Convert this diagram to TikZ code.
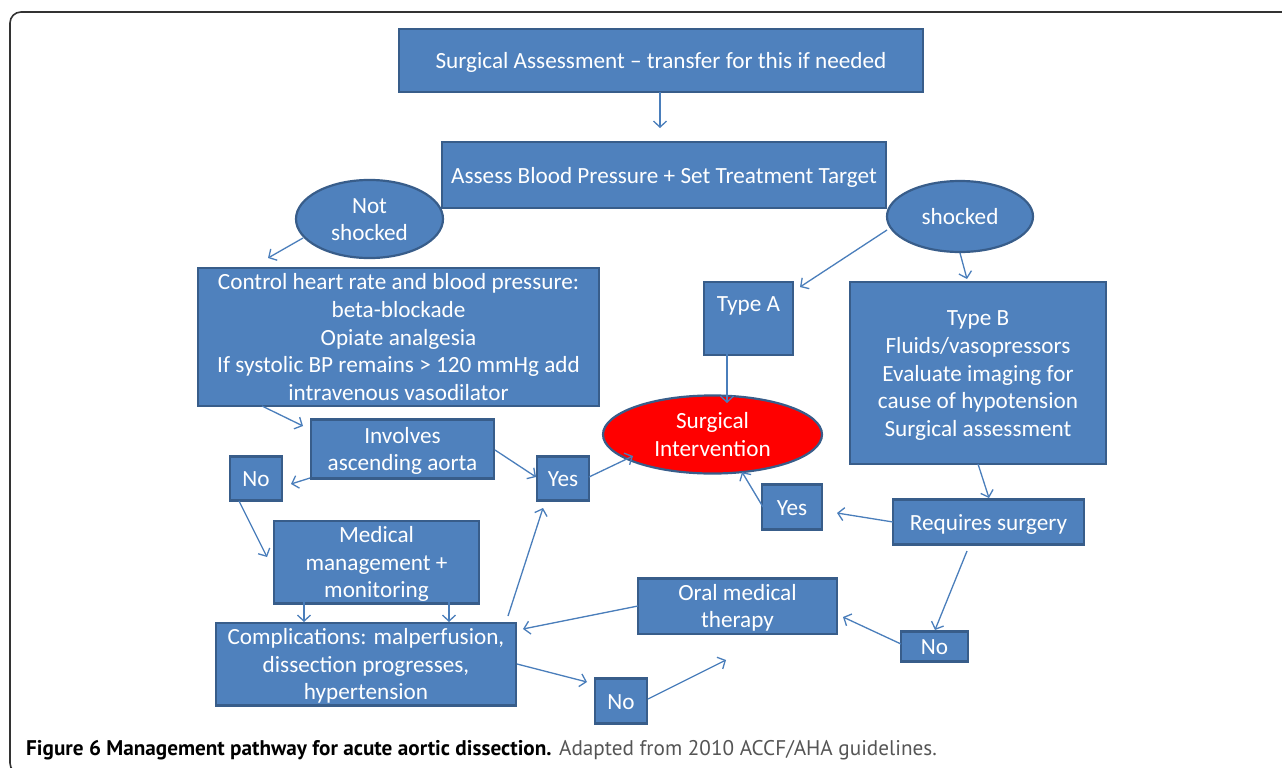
\documentclass[tikz,border=0pt]{standalone}
\usepackage{fontspec}
\setmainfont{Carlito}
\newfontfamily\capfont{PT Sans}
\usetikzlibrary{arrows.meta,shapes.geometric}
\definecolor{boxfill}{HTML}{4F81BD}
\definecolor{boxline}{HTML}{385D8A}
\definecolor{arrcol}{HTML}{4A7EBB}
\definecolor{capgray}{HTML}{555555}
\newcommand\bxt[1]{\raisebox{-2.5pt}[\height][\depth]{\begin{tabular}{@{}c@{}}#1\end{tabular}}}
\tikzset{
  box/.style={draw=boxline, fill=boxfill, line width=2.2pt, inner sep=0pt, text=white,
    font=\fontsize{23.2}{27.6}\selectfont},
  oval/.style={box, ellipse},
  arr/.style={draw=arrcol, line width=1.3pt, -{Straight Barb[length=6pt,width=13pt,line width=1.3pt]}},
}
\begin{document}
\begin{tikzpicture}[x=1pt,y=-1pt]
\useasboundingbox (0,0) rectangle (1282,768);
\fill[white] (0,0) rectangle (1282,768);
\begin{scope}
\clip (0,0) rectangle (1282,768);
\draw[line width=1.6pt, black!80, rounded corners=11pt] (10,12) rectangle (1300,774);
\end{scope}

% nodes
\node[box, minimum width=524pt, minimum height=63pt] (sa) at (661,60.5) {\bxt{Surgical Assessment -- transfer for this if needed}};
\node[box, minimum width=444pt, minimum height=66pt] (abp) at (664,175) {\bxt{Assess Blood Pressure + Set Treatment Target}};
\node[oval, minimum width=147pt, minimum height=68pt] (ns) at (369.5,219) {\bxt{Not\\shocked}};
\node[oval, minimum width=146pt, minimum height=71pt] (sh) at (960,216.5) {\bxt{shocked}};
\node[box, minimum width=401pt, minimum height=138pt] (ctrl) at (398.5,337) {\bxt{Control heart rate and blood pressure:\\beta-blockade\\Opiate analgesia\\If systolic BP remains > 120 mmHg add\\intravenous vasodilator}};
\node[box, minimum width=89pt, minimum height=73pt, text height=15pt, text depth=30pt] (ta) at (748.5,318.5) {Type A};
\node[box, minimum width=256pt, minimum height=182pt] (tb) at (978,373) {\bxt{Type B\\Fluids/vasopressors\\Evaluate imaging for\\cause of hypotension\\Surgical assessment}};
\node[oval, fill=red, minimum width=219pt, minimum height=58pt] (si) at (712.5,434.5) {\bxt{Surgical\\Intervention}};
\node[box, minimum width=183pt, minimum height=59pt] (inv) at (402.5,449) {\bxt{Involves\\ascending aorta}};
\node[box, minimum width=52pt, minimum height=44pt] (nol) at (256,478.5) {\bxt{No}};
\node[box, minimum width=52pt, minimum height=44pt] (yesl) at (563,478.5) {\bxt{Yes}};
\node[box, minimum width=205pt, minimum height=81pt] (med) at (376.5,562) {\bxt{Medical\\management +\\monitoring}};
\node[box, minimum width=300pt, minimum height=81pt] (comp) at (366,664) {\bxt{Complications: malperfusion,\\dissection progresses,\\hypertension}};
\node[box, minimum width=52pt, minimum height=45pt] (nob) at (621,701) {\bxt{No}};
\node[box, minimum width=199pt, minimum height=53pt] (oral) at (737.5,606) {\bxt{Oral medical\\therapy}};
\node[box, minimum width=60pt, minimum height=45pt] (yesr) at (792,507) {\bxt{Yes}};
\node[box, minimum width=191pt, minimum height=45pt] (req) at (988.5,522) {\bxt{Requires surgery}};
\node[box, minimum width=67pt, minimum height=30pt] (nor) at (934.5,646.5) {\bxt{No}};
\coordinate (free) at (726,660);

% connectors
\draw[arr] ([shift={(-1,31.5)}]sa.center) -- ([shift={(-4,-47)}]abp.center);
\draw[arr] ([shift={(-66.5,19)}]ns.center) -- ([shift={(-130.5,-79)}]ctrl.center);
\draw[arr] ([shift={(-73,13.5)}]sh.center) -- ([shift={(51.5,-31.5)}]ta.center);
\draw[arr] ([shift={(0,36.5)}]sh.center) -- ([shift={(-11,-94)}]tb.center);
\draw[arr] ([shift={(-21.5,35.5)}]ta.center) -- ([shift={(14.5,-31.5)}]si.center);
\draw[arr] ([shift={(-136.5,69)}]ctrl.center) -- ([shift={(-99.5,-23)}]inv.center);
\draw[arr] ([shift={(-92.5,29)}]inv.center) -- ([shift={(35,5.5)}]nol.center);
\draw[arr] ([shift={(92.5,1)}]inv.center) -- ([shift={(-27,-1.5)}]yesl.center);
\draw[arr] ([shift={(26,-1.5)}]yesl.center) -- ([shift={(-79.5,21.5)}]si.center);
\draw[arr] ([shift={(-17,22.5)}]nol.center) -- ([shift={(-109.5,-5)}]med.center);
\draw[arr] ([shift={(-72.5,40)}]med.center) -- ([shift={(-62,-42)}]comp.center);
\draw[arr] ([shift={(72.5,40)}]med.center) -- ([shift={(83,-42)}]comp.center);
\draw[arr] ([shift={(142,-48)}]comp.center) -- ([shift={(-20,29.5)}]yesl.center);
\draw[arr] ([shift={(-99.5,0)}]oral.center) -- ([shift={(157,-35)}]comp.center);
\draw[arr] ([shift={(151,0)}]comp.center) -- ([shift={(-34,-19)}]nob.center);
\draw[arr] ([shift={(27,-2)}]nob.center) -- (free);
\draw[arr] ([shift={(0,91)}]tb.center) -- ([shift={(0.5,-24)}]req.center);
\draw[arr] ([shift={(-95.5,0)}]req.center) -- ([shift={(45,6)}]yesr.center);
\draw[arr] ([shift={(-29,0)}]yesr.center) -- ([shift={(29.5,37.5)}]si.center);
\draw[arr] ([shift={(-21.5,29)}]req.center) -- ([shift={(0.5,-16.5)}]nor.center);
\draw[arr] ([shift={(-33.5,-2.5)}]nor.center) -- ([shift={(105.5,11)}]oral.center);

% caption
\node[anchor=base west, inner sep=0pt, font=\capfont\fontsize{21.2}{24}\selectfont] (cap) at (26,755)
  {\textbf{Figure 6 Management pathway for acute aortic dissection.} \textcolor{capgray}{Adapted from 2010 ACCF/AHA guidelines.}};
\end{tikzpicture}
\end{document}
